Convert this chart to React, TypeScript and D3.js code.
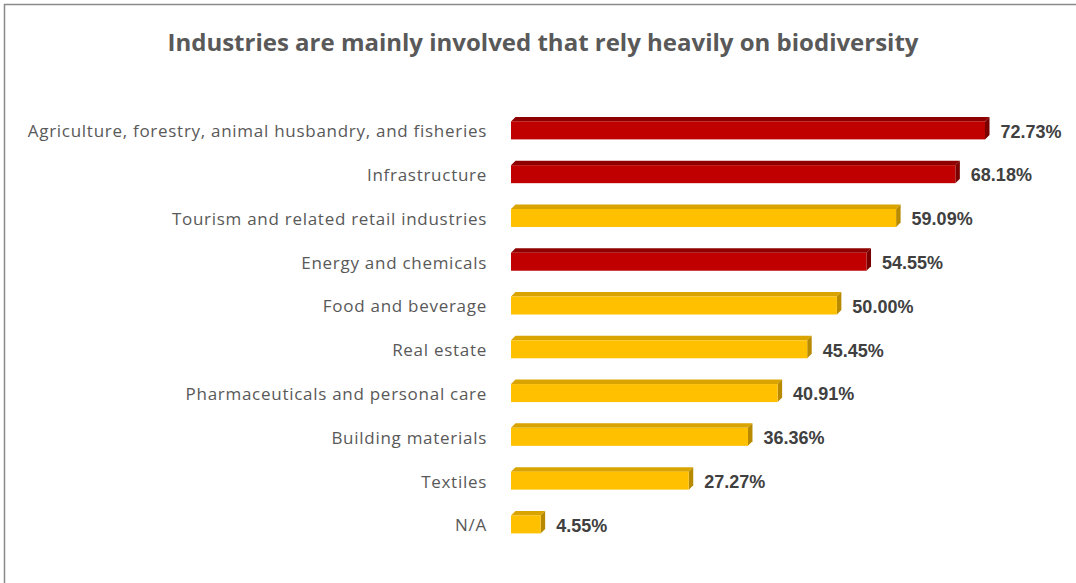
import React from "react";
import * as d3 from "d3";

const categories = [
  "Agriculture, forestry, animal husbandry, and fisheries",
  "Infrastructure",
  "Tourism and related retail industries",
  "Energy and chemicals",
  "Food and beverage",
  "Real estate",
  "Pharmaceuticals and personal care",
  "Building materials",
  "Textiles",
  "N/A",
];
const values = [72.73, 68.18, 59.09, 54.55, 50.0, 45.45, 40.91, 36.36, 27.27, 4.55];
const highlighted = [true, true, false, true, false, false, false, false, false, false];
const title = "Industries are mainly involved that rely heavily on biodiversity";

const W = 1076;
const H = 583;

export default function App() {
  const x0 = 511;
  const x = d3.scaleLinear().domain([0, 72.73]).range([x0, 985]);
  const y = d3.scaleBand<string>().domain(categories).range([108.5, 546.3]).paddingInner(0.5).paddingOuter(0.25);
  const d = 4.5;
  const h = 18;
  const colors = (hi: boolean) =>
    hi
      ? { front: "#C00000", top: "#8E0000", side: "#7A0000" }
      : { front: "#FFC000", top: "#D9A300", side: "#B88A00" };

  return (
    <svg width={W} height={H} style={{ position: "absolute", left: 0, top: 0, background: "#fff" }}>
      <rect x={4.5} y={4.5} width={W + 20} height={H + 20} fill="#fff" stroke="#8a8a8a" strokeWidth={1.5} />
      <text x={543} y={51} textAnchor="middle" fontFamily="'Open Sans', sans-serif" fontWeight="bold" fontSize={24} fill="#595959">
        {title}
      </text>
      {categories.map((c, i) => {
        const cy = (y(c) as number) + y.bandwidth() / 2;
        const fy = cy - h / 2;
        const x1 = x(values[i]);
        const col = colors(highlighted[i]);
        return (
          <g key={c}>
            <text x={487} y={cy + 1} dy="0.35em" textAnchor="end" fontFamily="'Open Sans', sans-serif" fontSize={17} letterSpacing={0.72} fill="#595959">
              {c}
            </text>
            <polygon points={`${x0},${fy} ${x0 + d},${fy - d} ${x1 + d},${fy - d} ${x1},${fy}`} fill={col.top} />
            <polygon points={`${x1},${fy} ${x1 + d},${fy - d} ${x1 + d},${fy + h - d} ${x1},${fy + h}`} fill={col.side} />
            <rect x={x0} y={fy} width={x1 - x0} height={h} fill={col.front} />
            <text x={x1 + d + 11} y={cy + 1} dy="0.35em" fontFamily="'Liberation Sans', Arial, sans-serif" fontWeight="bold" fontSize={18} fill="#404040">
              {values[i].toFixed(2)}%
            </text>
          </g>
        );
      })}
    </svg>
  );
}
